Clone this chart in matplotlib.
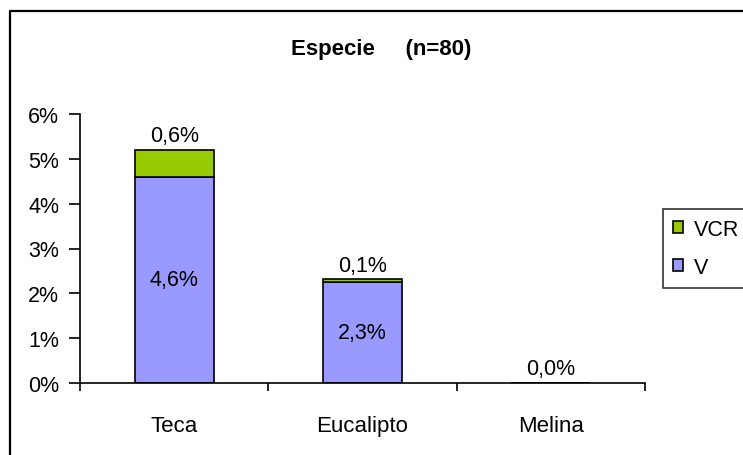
import matplotlib
matplotlib.use("Agg")
import matplotlib.pyplot as plt
from matplotlib.lines import Line2D
import numpy as np

plt.rcParams["font.family"] = ["Liberation Sans", "DejaVu Sans"]

# datos (%)
categorias = ["Teca", "Eucalipto", "Melina"]
v_vals = [4.6, 2.26, 0.0]
vcr_vals = [0.6, 0.05, 0.0]
yticks = [0, 1, 2, 3, 4, 5, 6]

COLOR_V = "#9999FF"
COLOR_VCR = "#99CC00"
FS = 15.5

W, H = 743, 456


def pct(v):
    return f"{v:.1f}%".replace(".", ",")


fig = plt.figure(figsize=(W / 100, H / 100), dpi=100)
# marco exterior (solo izquierda y arriba quedan visibles)
fig.lines.append(Line2D([10 / W, 10 / W, 1], [0, 1 - 12 / H, 1 - 12 / H],
                        transform=fig.transFigure, color="black", linewidth=1.6))

ax = fig.add_axes([80 / W, 1 - 384 / H, (645 - 80) / W, (384 - 115) / H])
x = np.arange(len(categorias)) + 0.5
w = 0.42

ax.bar(x, v_vals, w, color=COLOR_V, edgecolor="black", linewidth=1.2, label="V")
ax.bar(x, vcr_vals, w, bottom=v_vals, color=COLOR_VCR, edgecolor="black",
       linewidth=1.2, label="VCR")

for xi, v, c in zip(x, v_vals, vcr_vals):
    top = v + c
    ax.text(xi, top + 0.08, pct(c), ha="center", va="bottom", fontsize=FS)
    if v > 0:
        ax.text(xi, v / 2, pct(v), ha="center", va="center", fontsize=FS)

ax.set_xlim(0, 3)
ax.set_ylim(0, 6)
ax.set_yticks(yticks)
ax.set_yticklabels([f"{t}%" for t in yticks], fontsize=FS)
ax.set_xticks([0, 1, 2, 3])
ax.set_xticklabels([])
ax.set_xticks(x, minor=True)
ax.set_xticklabels(categorias, minor=True, fontsize=16)
ax.tick_params(axis="x", which="minor", length=0, pad=23)
ax.tick_params(axis="x", which="major", direction="out", length=6, width=1.2)
ax.tick_params(axis="y", direction="out", length=8, width=1.2, pad=7)
ax.spines["top"].set_visible(False)
ax.spines["right"].set_visible(False)
ax.spines["left"].set_linewidth(1.2)
ax.spines["bottom"].set_linewidth(1.2)

fig.text(381 / W, 1 - 50 / H, "Especie     (n=80)", ha="center", va="center",
         fontsize=16, fontweight="bold")

handles, labels = ax.get_legend_handles_labels()
leg = fig.legend(handles[::-1], labels[::-1], loc="upper left",
                 bbox_to_anchor=(663 / W, 1 - 210 / H), fontsize=15.5,
                 frameon=True, fancybox=False, edgecolor="black",
                 handlelength=0.5, handleheight=0.5, handletextpad=0.5,
                 borderpad=0.45, labelspacing=0.8, borderaxespad=0)
leg.get_frame().set_linewidth(1.2)

fig.savefig("out.png", dpi=100)
